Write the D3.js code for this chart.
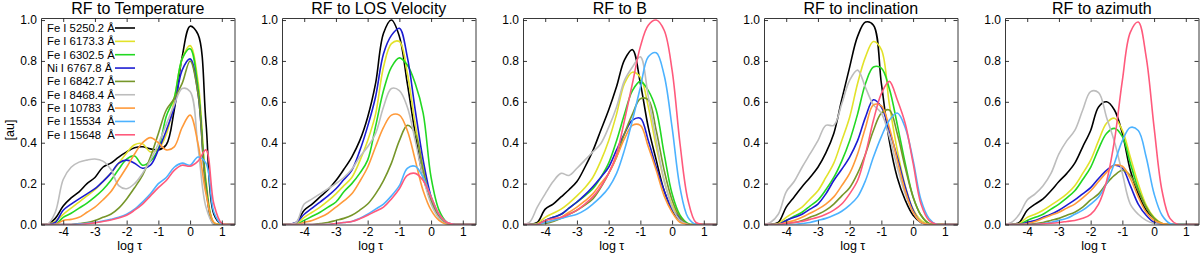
<!DOCTYPE html>
<html>
<head>
<meta charset="utf-8">
<script src="https://cdn.jsdelivr.net/npm/d3@7"></script>
<style>
  body { margin: 0; background: #fff; }
  text { font-family: "Liberation Sans", Arial, sans-serif; fill: #000; }
</style>
</head>
<body>
<script>
var width = 1200,
    height = 258;

// log tau grid, shared by all curves
var logTau = [-4.75, -4.5, -4.25, -4, -3.75, -3.5, -3.25, -3, -2.75, -2.5, -2.25, -2, -1.75,
              -1.5, -1.25, -1, -0.75, -0.5, -0.25, 0, 0.25, 0.5, 0.75, 1, 1.25, 1.5];

var lines = ["Fe I 5250.2 Å", "Fe I 6173.3 Å", "Fe I 6302.5 Å", "Ni I 6767.8 Å", "Fe I 6842.7 Å",
             "Fe I 8468.4 Å", "Fe I 10783  Å", "Fe I 15534  Å", "Fe I 15648  Å"];
var colors = ["#000000", "#e2e22a", "#22d822", "#1c1cd2", "#76962a",
              "#bdbdbd", "#ff9a3a", "#4cb2ff", "#ff5a7c"];
var titles = ["RF to Temperature", "RF to LOS Velocity", "RF to B", "RF to inclination", "RF to azimuth"];
var xTicks = [-4, -3, -2, -1, 0, 1];
var yTicks = [0, 0.2, 0.4, 0.6, 0.8, 1.0];

// one row per spectral line, same order as `lines`
var rfTemperature = [
  [0,0,0.03,0.09,0.13,0.16,0.2,0.23,0.28,0.3,0.33,0.355,0.375,0.38,0.37,0.365,0.39,0.56,0.82,0.97,0.93,0.5,0.05,0,0,0],
  [0,0,0.015,0.05,0.08,0.11,0.14,0.17,0.21,0.25,0.3,0.35,0.39,0.395,0.355,0.37,0.44,0.61,0.81,0.875,0.7,0.22,0.01,0,0,0],
  [0,0,0,0.035,0.055,0.08,0.105,0.135,0.17,0.215,0.27,0.32,0.335,0.29,0.31,0.37,0.53,0.62,0.81,0.86,0.67,0.2,0.005,0,0,0],
  [0,0,0.01,0.07,0.1,0.125,0.15,0.175,0.21,0.25,0.3,0.315,0.3,0.275,0.29,0.365,0.46,0.575,0.755,0.81,0.64,0.18,0,0,0,0],
  [0,0,0,0,0,0.005,0.01,0.02,0.035,0.05,0.08,0.125,0.18,0.24,0.33,0.445,0.56,0.615,0.69,0.8,0.64,0.18,0,0,0,0],
  [0,0,0.06,0.22,0.28,0.305,0.315,0.32,0.31,0.27,0.19,0.175,0.2,0.25,0.315,0.395,0.49,0.585,0.665,0.65,0.38,0.085,0,0,0,0],
  [0,0,0,0.02,0.025,0.035,0.06,0.085,0.12,0.16,0.22,0.28,0.345,0.4,0.425,0.4,0.365,0.38,0.475,0.535,0.395,0.15,0.01,0,0,0],
  [0,0,0,0,0,0.003,0.006,0.01,0.017,0.025,0.035,0.05,0.075,0.11,0.15,0.2,0.23,0.28,0.3,0.29,0.33,0.3,0.06,0,0,0],
  [0,0,0,0,0,0,0.003,0.008,0.015,0.022,0.032,0.045,0.07,0.1,0.14,0.18,0.215,0.265,0.29,0.285,0.31,0.365,0.1,0.005,0,0]
];
var rfVelocity = [
  [0,0,0.01,0.07,0.1,0.135,0.17,0.215,0.27,0.33,0.41,0.525,0.69,0.935,1.0,0.92,0.69,0.445,0.23,0.12,0.035,0.005,0,0,0,0],
  [0,0,0.005,0.035,0.06,0.085,0.115,0.15,0.19,0.23,0.31,0.41,0.54,0.77,0.885,0.895,0.74,0.49,0.28,0.125,0.035,0.005,0,0,0,0],
  [0,0,0,0.02,0.04,0.06,0.085,0.11,0.16,0.2,0.25,0.315,0.48,0.655,0.77,0.815,0.78,0.69,0.545,0.23,0.07,0.01,0,0,0,0],
  [0,0,0.01,0.05,0.08,0.11,0.14,0.175,0.22,0.265,0.36,0.48,0.625,0.835,0.925,0.96,0.82,0.56,0.315,0.135,0.035,0.005,0,0,0,0],
  [0,0,0,0,0,0.005,0.01,0.02,0.03,0.045,0.07,0.1,0.15,0.215,0.3,0.41,0.485,0.445,0.265,0.12,0.035,0.005,0,0,0,0],
  [0,0,0.01,0.1,0.125,0.15,0.175,0.2,0.23,0.27,0.33,0.38,0.445,0.575,0.665,0.655,0.575,0.41,0.23,0.1,0.03,0,0,0,0,0],
  [0,0,0,0.01,0.02,0.035,0.055,0.085,0.115,0.15,0.21,0.28,0.38,0.475,0.535,0.535,0.46,0.315,0.165,0.07,0.02,0,0,0,0,0],
  [0,0,0,0,0,0,0,0.005,0.01,0.015,0.03,0.05,0.075,0.1,0.14,0.19,0.275,0.285,0.23,0.135,0.05,0.01,0,0,0,0],
  [0,0,0,0,0,0,0,0.005,0.01,0.015,0.028,0.045,0.065,0.085,0.125,0.175,0.24,0.25,0.215,0.135,0.05,0.01,0,0,0,0]
];
var rfB = [
  [0,0,0.01,0.075,0.1,0.135,0.17,0.21,0.28,0.36,0.46,0.56,0.675,0.805,0.855,0.69,0.475,0.315,0.165,0.07,0.02,0,0,0,0,0],
  [0,0,0.005,0.035,0.055,0.075,0.105,0.14,0.18,0.23,0.31,0.41,0.54,0.69,0.745,0.72,0.575,0.38,0.215,0.095,0.03,0,0,0,0,0],
  [0,0,0,0.02,0.035,0.05,0.08,0.11,0.14,0.175,0.23,0.3,0.41,0.54,0.655,0.7,0.655,0.56,0.345,0.15,0.045,0.005,0,0,0,0],
  [0,0,0,0.02,0.035,0.05,0.08,0.11,0.145,0.185,0.23,0.28,0.365,0.445,0.51,0.52,0.41,0.28,0.165,0.075,0.03,0,0,0,0,0],
  [0,0,0,0.005,0.015,0.03,0.05,0.07,0.095,0.125,0.18,0.25,0.33,0.445,0.54,0.615,0.61,0.46,0.265,0.12,0.035,0,0,0,0,0],
  [0,0.01,0.085,0.15,0.21,0.25,0.24,0.275,0.315,0.355,0.395,0.475,0.575,0.705,0.77,0.82,0.625,0.41,0.215,0.085,0.02,0,0,0,0,0],
  [0,0,0,0.01,0.02,0.035,0.06,0.085,0.115,0.15,0.2,0.25,0.33,0.42,0.485,0.485,0.38,0.265,0.14,0.06,0.01,0,0,0,0,0],
  [0,0,0,0.01,0.02,0.03,0.04,0.05,0.07,0.1,0.135,0.18,0.25,0.365,0.51,0.67,0.82,0.84,0.73,0.475,0.18,0.035,0,0,0,0],
  [0,0,0,0.02,0.028,0.035,0.05,0.07,0.1,0.135,0.185,0.25,0.345,0.51,0.69,0.87,0.975,1.0,0.95,0.755,0.395,0.12,0.01,0,0,0]
];
var rfInclination = [
  [0,0,0.01,0.085,0.135,0.185,0.23,0.28,0.35,0.445,0.61,0.77,0.92,0.99,0.975,0.69,0.41,0.23,0.12,0.045,0.01,0,0,0,0,0],
  [0,0,0.005,0.035,0.06,0.085,0.125,0.165,0.23,0.3,0.41,0.525,0.69,0.82,0.895,0.855,0.59,0.365,0.19,0.075,0.02,0,0,0,0,0],
  [0,0,0,0.02,0.04,0.06,0.09,0.12,0.17,0.23,0.31,0.41,0.54,0.69,0.77,0.765,0.665,0.49,0.3,0.135,0.045,0.005,0,0,0,0],
  [0,0,0,0.02,0.035,0.05,0.075,0.1,0.15,0.215,0.27,0.33,0.41,0.525,0.61,0.575,0.46,0.33,0.185,0.07,0.01,0,0,0,0,0],
  [0,0,0,0.005,0.01,0.02,0.035,0.05,0.07,0.1,0.14,0.18,0.25,0.345,0.46,0.545,0.56,0.445,0.28,0.135,0.045,0.005,0,0,0,0],
  [0,0.01,0.05,0.16,0.21,0.28,0.345,0.41,0.485,0.485,0.59,0.705,0.755,0.67,0.585,0.545,0.43,0.28,0.15,0.06,0.01,0,0,0,0,0],
  [0,0,0,0.01,0.02,0.035,0.055,0.075,0.1,0.135,0.19,0.25,0.345,0.475,0.585,0.58,0.475,0.315,0.165,0.06,0.01,0,0,0,0,0],
  [0,0,0,0,0,0.005,0.01,0.02,0.03,0.045,0.065,0.095,0.135,0.215,0.33,0.43,0.51,0.545,0.475,0.315,0.12,0.03,0,0,0,0],
  [0,0,0,0.005,0.01,0.015,0.025,0.035,0.05,0.07,0.1,0.15,0.215,0.345,0.51,0.64,0.7,0.61,0.495,0.3,0.1,0.02,0,0,0,0]
];
var rfAzimuth = [
  [0,0,0.01,0.07,0.1,0.125,0.165,0.21,0.25,0.3,0.38,0.46,0.575,0.6,0.56,0.445,0.265,0.15,0.07,0.03,0,0,0,0,0,0],
  [0,0,0.005,0.035,0.05,0.07,0.095,0.12,0.15,0.19,0.25,0.315,0.41,0.495,0.52,0.46,0.33,0.2,0.095,0.035,0.005,0,0,0,0,0],
  [0,0,0,0.02,0.035,0.05,0.075,0.1,0.13,0.165,0.22,0.28,0.37,0.445,0.47,0.43,0.3,0.175,0.085,0.03,0,0,0,0,0,0],
  [0,0,0,0.01,0.02,0.035,0.05,0.07,0.095,0.12,0.15,0.18,0.225,0.265,0.29,0.275,0.19,0.1,0.045,0.01,0,0,0,0,0,0],
  [0,0,0,0,0.005,0.01,0.02,0.03,0.045,0.06,0.085,0.12,0.15,0.2,0.24,0.265,0.24,0.165,0.085,0.03,0.005,0,0,0,0,0],
  [0,0.01,0.05,0.12,0.15,0.19,0.25,0.345,0.41,0.46,0.56,0.65,0.645,0.525,0.405,0.25,0.1,0.05,0.02,0.005,0,0,0,0,0,0],
  [0,0,0,0.005,0.015,0.03,0.045,0.06,0.08,0.1,0.13,0.165,0.21,0.255,0.29,0.285,0.225,0.135,0.06,0.02,0.005,0,0,0,0,0],
  [0,0,0,0,0,0.005,0.01,0.02,0.03,0.05,0.07,0.1,0.135,0.2,0.3,0.41,0.475,0.46,0.33,0.15,0.045,0.005,0,0,0,0],
  [0,0,0,0,0,0.003,0.006,0.01,0.015,0.02,0.03,0.05,0.1,0.21,0.41,0.705,0.94,0.99,0.82,0.475,0.165,0.03,0,0,0,0]
];
var panels = [rfTemperature, rfVelocity, rfB, rfInclination, rfAzimuth];

var left0 = 41, pitch = 241, pw = 193.5,
    plotTop = 18, plotBottom = 224.5,
    ph = plotBottom - plotTop;

var svg = d3.select("body").append("svg")
    .attr("width", width)
    .attr("height", height);

var x = d3.scaleLinear().domain([-4.7, 1.4]).range([0, pw]);
var y = d3.scaleLinear().domain([0, 1.01]).range([ph, 0]);

var line = d3.line()
    .x(function(d) { return x(d[0]); })
    .y(function(d) { return y(d[1]); })
    .curve(d3.curveCatmullRom.alpha(0.5));

// plain hyphen for negatives, like the original plot
var fmtX = function(d) { return String(d); };

panels.forEach(function(series, p) {
  var g = svg.append("g")
      .attr("transform", "translate(" + (left0 + p * pitch) + "," + plotTop + ")");

  g.append("clipPath").attr("id", "clip" + p)
    .append("rect").attr("y", -2).attr("width", pw).attr("height", ph + 2);

  // curves, drawn in legend order (later ones on top)
  g.append("g").attr("clip-path", "url(#clip" + p + ")")
    .selectAll("path")
    .data(series)
    .enter().append("path")
      .attr("d", function(vals) { return line(logTau.map(function(t, i) { return [t, vals[i]]; })); })
      .style("fill", "none")
      .style("stroke", function(d, i) { return colors[i]; })
      .style("stroke-width", 1.6);

  // axes: ticks inward on all four sides, labels only left and bottom
  g.append("g").attr("transform", "translate(0," + ph + ")")
      .call(d3.axisBottom(x).tickValues(xTicks).tickSizeInner(-4).tickSizeOuter(0)
        .tickPadding(3).tickFormat(fmtX));
  g.append("g")
      .call(d3.axisTop(x).tickValues(xTicks).tickSizeInner(-4).tickSizeOuter(0).tickFormat(""));
  g.append("g")
      .call(d3.axisLeft(y).tickValues(yTicks).tickSizeInner(-4).tickSizeOuter(0)
        .tickPadding(4).tickFormat(d3.format(".1f")));
  g.append("g").attr("transform", "translate(" + pw + ",0)")
      .call(d3.axisRight(y).tickValues(yTicks).tickSizeInner(-4).tickSizeOuter(0).tickFormat(""));

  g.selectAll(".domain").style("stroke", "#222").style("stroke-width", 0.9);
  g.selectAll(".tick line").style("stroke", "#222").style("stroke-width", 0.9);
  g.selectAll(".tick text").style("font-size", "12px").style("fill", "#000")
      .style("font-family", "'Liberation Sans', Arial, sans-serif");

  g.append("text")
      .attr("x", pw / 2).attr("y", -4)
      .attr("text-anchor", "middle")
      .style("font-size", "16px")
      .text(titles[p]);

  g.append("text")
      .attr("x", pw / 2 - 8).attr("y", ph + 25)
      .attr("text-anchor", "middle")
      .style("font-size", "12.5px")
      .text("log τ");
});

svg.append("text")
    .attr("transform", "translate(14,130) rotate(-90)")
    .attr("text-anchor", "middle")
    .style("font-size", "12.5px")
    .text("[au]");

// legend inside the first panel
var legend = svg.append("g").attr("transform", "translate(47,28)")
  .selectAll("g")
  .data(lines)
  .enter().append("g")
    .attr("transform", function(d, i) { return "translate(0," + (i * 13.35) + ")"; });

legend.append("text")
    .attr("dy", "0.35em")
    .style("font-size", "11.3px")
    .style("white-space", "pre")
    .attr("xml:space", "preserve")
    .text(function(d) { return d; });

legend.append("line")
    .attr("x1", 68).attr("x2", 88)
    .style("stroke", function(d, i) { return colors[i]; })
    .style("stroke-width", 1.6);
</script>
</body>
</html>
